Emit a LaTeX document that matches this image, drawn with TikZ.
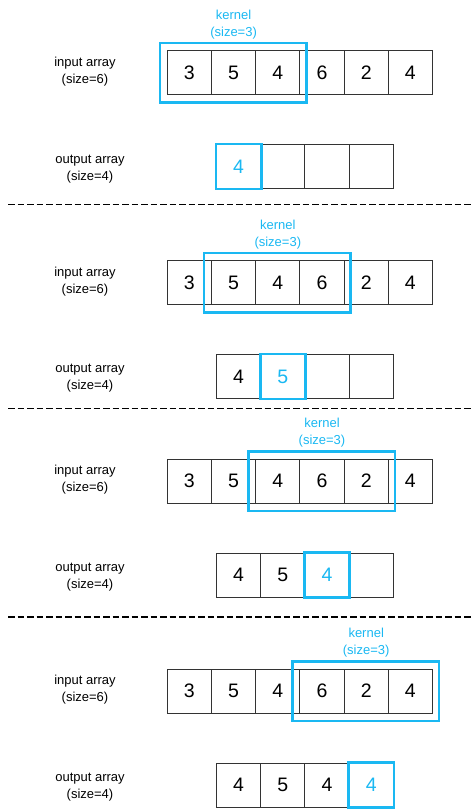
\documentclass[tikz,border=0pt]{standalone}
\usepackage{fontspec}
\setmainfont{Liberation Sans}
\usetikzlibrary{positioning}
\definecolor{kernelblue}{RGB}{26,184,242}
\tikzset{
  cell/.style={draw=black!80, line width=1pt, minimum width=44.2pt, minimum height=44pt, inner sep=0pt, font=\fontsize{19.5}{20}\selectfont},
  kernelbox/.style={draw=kernelblue, line width=2.6pt},
  hlcell/.style={draw=kernelblue, line width=2.6pt},
  lbl/.style={align=center, font=\fontsize{13}{17}\selectfont},
  kernellabel/.style={lbl, text=kernelblue, inner sep=2pt},
  sepline/.style={dash pattern=on 6.5pt off 3pt, line width=1.8pt}
}

\begin{document}
\begin{tikzpicture}[x=1pt,y=-1pt]
\useasboundingbox (0,0) rectangle (472,810);
\foreach \p/\y/\k in {1/72.7/1, 2/282.5/2, 3/481/3, 4/691/4} {
  \pgfmathtruncatemacro\km{\k+1}
  \pgfmathtruncatemacro\kk{\k+2}
  \node[lbl] (inlbl-\p) at (85,\y-1) {input array\\(size=6)};
  \node[lbl] (outlbl-\p) at (90,\y+96) {output array\\(size=4)};
  \foreach \i/\v in {1/3, 2/5, 3/4, 4/6, 5/2, 6/4}
    \node[cell] (in-\p-\i) at (189.4+44.2*\i-44.2,\y) {\v};
  \foreach \i/\o in {1/4, 2/5, 3/4, 4/4}
    \node[cell] (out-\p-\i) at (238.6+44.2*\i-44.2,\y+94) {\ifnum\i<\p\relax\o\else\ifnum\i=\p\relax\textcolor{kernelblue}{\o}\fi\fi};
  \draw[hlcell] (out-\p-\p.north west) rectangle (out-\p-\p.south east);
  \draw[kernelbox] ([xshift=-7pt,yshift=7pt]in-\p-\k.north west) rectangle ([xshift=6pt,yshift=-7.5pt]in-\p-\kk.south east);
  \node[kernellabel, above=9pt of in-\p-\km.north] (kernel-\p) {kernel\\(size=3)};
}
\foreach \s in {204.5, 408.5, 616.7}
  \draw[sepline] (8,\s) -- (472,\s);
\end{tikzpicture}
\end{document}
